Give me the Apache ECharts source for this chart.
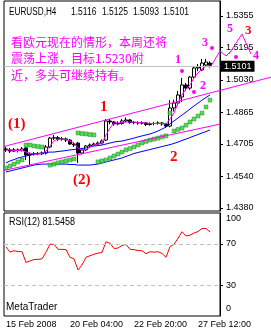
<!DOCTYPE html>
<html>
<head>
<meta charset="utf-8">
<script src="https://cdn.jsdelivr.net/npm/echarts@6/dist/echarts.min.js"></script>
<style>
  html, body { margin: 0; padding: 0; background: #fff; }
  #chart { width: 271px; height: 335px; }
</style>
</head>
<body>
<div id="chart"></div>
<script>
  // header of the price window
  const symbolName = 'EURUSD,H4';
  const lastBar = ['1.5116', '1.5125', '1.5093', '1.5101'];
  const lastPrice = 1.5101;

  // x axis (bar index -> label)
  const tickIdx = [0, 16, 32, 48];
  const tickLabels = ['15 Feb 2008', '20 Feb 04:00', '22 Feb 20:00', '27 Feb 12:00'];
  const slots = 54;

  // price scale
  const priceTicks = [1.4380, 1.4540, 1.4705, 1.4865, 1.5030, 1.5195, 1.5355];
  const rsiTicks = [0, 30, 70, 100];
  const rsiLevels = [30, 70];

  // H4 bars: [open, close, low, high]
  const candles = [
    [1.4680, 1.4675, 1.4664, 1.4690], [1.4675, 1.4669, 1.4659, 1.4685], [1.4669, 1.4675, 1.4664, 1.4685],
    [1.4675, 1.4672, 1.4662, 1.4682], [1.4672, 1.4680, 1.4667, 1.4690], [1.4685, 1.4649, 1.4624, 1.4690],
    [1.4649, 1.4654, 1.4598, 1.4662], [1.4654, 1.4657, 1.4646, 1.4664], [1.4657, 1.4655, 1.4648, 1.4664],
    [1.4655, 1.4659, 1.4649, 1.4667], [1.4659, 1.4690, 1.4652, 1.4700], [1.4690, 1.4735, 1.4685, 1.4741],
    [1.4735, 1.4737, 1.4725, 1.4751], [1.4737, 1.4730, 1.4720, 1.4746], [1.4730, 1.4731, 1.4722, 1.4741],
    [1.4731, 1.4725, 1.4715, 1.4738], [1.4725, 1.4705, 1.4700, 1.4730], [1.4705, 1.4700, 1.4690, 1.4712],
    [1.4710, 1.4659, 1.4609, 1.4715], [1.4659, 1.4675, 1.4652, 1.4685], [1.4675, 1.4695, 1.4669, 1.4700],
    [1.4695, 1.4700, 1.4688, 1.4708], [1.4700, 1.4705, 1.4695, 1.4712], [1.4705, 1.4710, 1.4698, 1.4718],
    [1.4710, 1.4720, 1.4703, 1.4728], [1.4725, 1.4822, 1.4720, 1.4832], [1.4822, 1.4817, 1.4805, 1.4832],
    [1.4817, 1.4807, 1.4798, 1.4822], [1.4807, 1.4809, 1.4800, 1.4820], [1.4809, 1.4822, 1.4803, 1.4832],
    [1.4822, 1.4827, 1.4815, 1.4840], [1.4827, 1.4814, 1.4808, 1.4832], [1.4814, 1.4814, 1.4805, 1.4822],
    [1.4814, 1.4812, 1.4803, 1.4820], [1.4812, 1.4812, 1.4804, 1.4820], [1.4812, 1.4804, 1.4796, 1.4817],
    [1.4804, 1.4809, 1.4798, 1.4815], [1.4809, 1.4809, 1.4800, 1.4817], [1.4809, 1.4812, 1.4803, 1.4820],
    [1.4812, 1.4807, 1.4798, 1.4817], [1.4807, 1.4796, 1.4788, 1.4810], [1.4796, 1.4888, 1.4790, 1.4928],
    [1.4888, 1.4913, 1.4870, 1.4930], [1.4913, 1.4954, 1.4900, 1.4975], [1.4944, 1.5005, 1.4918, 1.5040],
    [1.5005, 1.4989, 1.4975, 1.5015], [1.4989, 1.5045, 1.4980, 1.5050], [1.5045, 1.5091, 1.5040, 1.5096],
    [1.5091, 1.5096, 1.5075, 1.5111], [1.5081, 1.5116, 1.5075, 1.5137], [1.5106, 1.5121, 1.5096, 1.5137],
    [1.5116, 1.5101, 1.5093, 1.5125]
  ];

  // magenta average through the bars
  const maLine = [
    1.4675, 1.4675, 1.4672, 1.4672, 1.4672, 1.4664, 1.4659, 1.4654, 1.4654, 1.4657,
    1.4669, 1.4695, 1.4720, 1.4730, 1.4730, 1.4728, 1.4720, 1.4710, 1.4685, 1.4675,
    1.4675, 1.4690, 1.4700, 1.4705, 1.4710, 1.4751, 1.4786, 1.4812, 1.4812, 1.4814,
    1.4817, 1.4817, 1.4817, 1.4814, 1.4812, 1.4812, 1.4809, 1.4809, 1.4809, 1.4809,
    1.4807, 1.4832, 1.4862, 1.4913, 1.4954, 1.4984, 1.5005, 1.5040, 1.5066, 1.5086,
    1.5101, 1.5106
  ];

  // blue averages
  const blueFast = [
    1.4609, 1.4619, 1.4626, 1.4634, 1.4639, 1.4644, 1.4649, 1.4654, 1.4657, 1.4659,
    1.4662, 1.4664, 1.4664, 1.4667, 1.4669, 1.4672, 1.4675, 1.4677, 1.4680, 1.4682,
    1.4685, 1.4690, 1.4695, 1.4697, 1.4700, 1.4705, 1.4710, 1.4715, 1.4718, 1.4720,
    1.4725, 1.4730, 1.4735, 1.4741, 1.4746, 1.4751, 1.4756, 1.4763, 1.4771, 1.4781,
    1.4791, 1.4807, 1.4822, 1.4837, 1.4852, 1.4867, 1.4883, 1.4898, 1.4913, 1.4928,
    1.4941, 1.4954
  ];
  const blueSlow = [
    1.4563, 1.4568, 1.4573, 1.4578, 1.4583, 1.4588, 1.4593, 1.4598, 1.4601, 1.4603,
    1.4603, 1.4603, 1.4603, 1.4603, 1.4603, 1.4603, 1.4601, 1.4601, 1.4598, 1.4598,
    1.4598, 1.4598, 1.4601, 1.4603, 1.4609, 1.4614, 1.4619, 1.4624, 1.4629, 1.4634,
    1.4642, 1.4649, 1.4657, 1.4662, 1.4667, 1.4672, 1.4677, 1.4682, 1.4687, 1.4692,
    1.4697, 1.4702, 1.4708, 1.4715, 1.4723, 1.4730, 1.4738, 1.4746, 1.4753, 1.4761,
    1.4768, 1.4776
  ];

  // green dots
  const sarDots = [
    1.4583, 1.4593, 1.4603, 1.4614, 1.4624, 1.4700, 1.4700, 1.4695, 1.4692, 1.4690,
    null, 1.4598, 1.4603, 1.4609, 1.4614, 1.4619, 1.4624, 1.4629, 1.4761, 1.4758,
    1.4756, 1.4753, 1.4751, 1.4614, 1.4619, 1.4624, 1.4634, 1.4644, 1.4654, 1.4664,
    1.4675, 1.4682, 1.4690, 1.4700, 1.4710, 1.4718, 1.4725, 1.4730, 1.4735, 1.4741,
    1.4746, 1.4862, 1.4771, 1.4779, 1.4786, 1.4801, 1.4817, 1.4832, 1.4847, 1.4862,
    1.4893, 1.4928
  ];

  // RSI(12)
  const rsi = [
    67, 62, 63.4, 62.5, 62.5, 52, 53.5, 54.8, 55, 55.5,
    62, 69.6, 69.6, 64.7, 64.7, 64.5, 57, 55.5, 44.7, 49.5,
    57, 58.5, 60, 61, 61.8, 72, 70.6, 65.5, 66, 68.5,
    69.5, 64.7, 64.5, 63.5, 63.4, 60.5, 62.4, 62, 62.4, 60.8,
    57, 67.3, 69.6, 75.4, 81.8, 77.7, 78.5, 80.5, 82, 85,
    85, 81.5458
  ];
  const rsiLast = '81.5458';

  // hand drawn trend channel: [bar, price]
  const upperTrend = [[0, 1.4695], [51, 1.4964]];
  const lowerTrend = [[0, 1.4573], [51, 1.4795]];

  const FONT = "'Liberation Sans', Arial, sans-serif";
  const CJK = "'Noto Sans CJK SC', sans-serif";
  const SERIF = "'Liberation Serif', 'Times New Roman', serif";
  const MAG = '#ff00ff';
  const RED = '#ff0000';

  const cats = [];
  for (let i = 0; i < slots; i++) cats.push(String(i));

  function txt(text, x, y, fill, font, extra, sx) {
    return {
      type: 'text', x: x, y: y, z: 50, silent: true, scaleX: sx || 1,
      style: Object.assign({ text: text, fill: fill, font: font, verticalAlign: 'middle' }, extra || {})
    };
  }

  let dom = document.getElementById('chart');
  let myChart = echarts.init(dom);

  let option = {
    animation: false,
    backgroundColor: '#fff',
    grid: [
      { left: 4, top: 1, width: 216, height: 210, show: true, borderColor: '#000', borderWidth: 1 },
      { left: 4, top: 213, width: 216, height: 103, show: true, borderColor: '#000', borderWidth: 1 }
    ],
    xAxis: [
      {
        type: 'category', gridIndex: 0, data: cats, boundaryGap: true,
        axisLine: { show: false }, axisTick: { show: false }, axisLabel: { show: false }, splitLine: { show: false }
      },
      {
        type: 'category', gridIndex: 1, data: cats, boundaryGap: true,
        axisLine: { show: false }, axisTick: { show: false }, splitLine: { show: false },
        axisLabel: {
          show: true,
          interval: (i) => tickIdx.indexOf(i) >= 0,
          formatter: (v) => tickLabels[tickIdx.indexOf(+v)] || '',
          align: 'left', color: '#000', fontSize: 9, fontFamily: FONT, margin: 4
        }
      }
    ],
    yAxis: [
      {
        type: 'value', gridIndex: 0, position: 'right', min: 1.43648, max: 1.54312,
        axisLine: { show: true, lineStyle: { color: '#000' } },
        axisTick: { show: true, length: 3, customValues: priceTicks, lineStyle: { color: '#000' } },
        axisLabel: {
          customValues: priceTicks, formatter: (v) => v.toFixed(4),
          color: '#000', fontSize: 9, fontFamily: FONT, margin: 6
        },
        splitLine: { show: false }
      },
      {
        type: 'value', gridIndex: 1, position: 'right', min: 0, max: 100,
        axisLine: { show: true, lineStyle: { color: '#000' } },
        axisTick: { show: true, length: 3, customValues: [30, 70], lineStyle: { color: '#000' } },
        axisLabel: {
          customValues: rsiTicks,
          formatter: (v) => v === 100 ? '{t|100}' : (v === 0 ? '{b|0}' : String(v)),
          rich: { t: { padding: [12, 0, 0, 0] }, b: { padding: [0, 0, 14, 0] } },
          color: '#000', fontSize: 9, fontFamily: FONT, margin: 6
        },
        splitLine: { show: false }
      }
    ],
    series: [
      {
        type: 'candlestick', xAxisIndex: 0, yAxisIndex: 0, data: candles, barWidth: 3, z: 2,
        itemStyle: { color: '#fff', color0: '#000', borderColor: '#000', borderColor0: '#000', borderWidth: 1 },
        markLine: {
          silent: true, symbol: ['none', 'none'], animation: false,
          data: [{ yAxis: lastPrice }],
          lineStyle: { color: '#c0c0c0', type: 'solid', width: 1 },
          label: {
            show: true, position: 'end', formatter: lastBar[3], distance: 1,
            color: '#fff', backgroundColor: '#000', padding: [1, 3, 1, 3], fontSize: 9, fontFamily: FONT
          }
        }
      },
      {
        type: 'line', xAxisIndex: 0, yAxisIndex: 0, data: blueSlow, symbol: 'none', z: 3,
        lineStyle: { color: '#0000ff', width: 1 }
      },
      {
        type: 'line', xAxisIndex: 0, yAxisIndex: 0, data: blueFast, symbol: 'none', z: 3,
        lineStyle: { color: '#0000ff', width: 1 }
      },
      {
        type: 'line', xAxisIndex: 0, yAxisIndex: 0, data: maLine, symbol: 'none', z: 4,
        lineStyle: { color: MAG, width: 1 }
      },
      {
        type: 'scatter', xAxisIndex: 0, yAxisIndex: 0, data: sarDots, symbol: 'rect', symbolSize: 4, z: 4,
        itemStyle: { color: '#33cc33', borderColor: '#1a8a1a', borderWidth: 0.5 }
      },
      {
        type: 'line', xAxisIndex: 1, yAxisIndex: 1, data: rsi, symbol: 'none', z: 3,
        lineStyle: { color: RED, width: 1 },
        markLine: {
          silent: true, symbol: ['none', 'none'], animation: false,
          data: rsiLevels.map((v) => ({ yAxis: v })),
          lineStyle: { color: '#c0c0c0', type: [4, 3], width: 1 },
          label: { show: false }
        }
      }
    ]
  };
  myChart.setOption(option);

  // trend channel and the hand drawn marks, placed through the axes
  function toPx(pt) { return myChart.convertToPixel({ xAxisIndex: 0, yAxisIndex: 0 }, pt); }
  function extend(line, x0, x1) {
    let a = toPx(line[0]), b = toPx(line[1]);
    let k = (b[1] - a[1]) / (b[0] - a[0]);
    return { type: 'line', z: 5, silent: true,
      shape: { x1: x0, y1: a[1] + k * (x0 - a[0]), x2: x1, y2: a[1] + k * (x1 - a[0]) },
      style: { stroke: MAG, lineWidth: 1 } };
  }

  let head = '10px ' + FONT;
  let graphics = [
    extend(upperTrend, 4, 271),
    extend(lowerTrend, 4, 220),
    // header
    txt(symbolName, 9, 12, '#000', head, null, 0.82),
    txt(lastBar[0], 71, 12, '#000', head, null, 0.85),
    txt(lastBar[1], 102, 12, '#000', head, null, 0.85),
    txt(lastBar[2], 133, 12, '#000', head, null, 0.85),
    txt(lastBar[3], 163, 12, '#000', head, null, 0.85),
    // comment
    txt('看欧元现在的情形，本周还将', 11, 42, MAG, '12px ' + CJK, { backgroundColor: '#fff' }),
    txt('震荡上涨，目标1.5230附', 11, 58, MAG, '12px ' + CJK, { backgroundColor: '#fff' }),
    txt('近，多头可继续持有。', 11, 75, MAG, '12px ' + CJK, { backgroundColor: '#fff' }),
    // wave marks
    txt('(1)', 8, 124, RED, 'bold 15px ' + SERIF),
    txt('1', 100, 107, RED, 'bold 15px ' + SERIF),
    txt('(2)', 73, 180, RED, 'bold 15px ' + SERIF),
    txt('2', 170, 157, RED, 'bold 15px ' + SERIF),
    txt('3', 245, 31, RED, 'bold 13px ' + SERIF),
    txt('1', 175, 60, MAG, 'bold 12px ' + SERIF),
    txt('2', 200, 86, MAG, 'bold 12px ' + SERIF),
    txt('3', 202, 43, MAG, 'bold 12px ' + SERIF),
    txt('5', 227, 29, MAG, 'bold 12px ' + SERIF),
    txt('4', 253, 56, MAG, 'bold 12px ' + SERIF),
    { type: 'circle', z: 50, shape: { cx: 182, cy: 71, r: 2 }, style: { fill: MAG } },
    { type: 'circle', z: 50, shape: { cx: 194, cy: 92, r: 2 }, style: { fill: MAG } },
    { type: 'circle', z: 50, shape: { cx: 212, cy: 48, r: 2 }, style: { fill: MAG } },
    { type: 'circle', z: 50, shape: { cx: 236, cy: 57, r: 2 }, style: { fill: MAG } },
    { type: 'polyline', z: 50, shape: { points: [[211, 66], [220, 51], [226, 56], [230, 52]] }, style: { stroke: MAG, fill: null, lineWidth: 1 } },
    { type: 'polyline', z: 50, shape: { points: [[229, 54], [242, 34], [251, 54]] }, style: { stroke: MAG, fill: null, lineWidth: 1 } },
    // lower panel
    txt('RSI(12) ' + rsiLast, 9, 222, '#000', head, null, 0.9),
    txt('MetaTrader', 6, 307, '#000', head)
  ];
  myChart.setOption({ graphic: graphics });
  window.addEventListener('resize', () => { myChart.resize(); });
</script>
</body>
</html>
